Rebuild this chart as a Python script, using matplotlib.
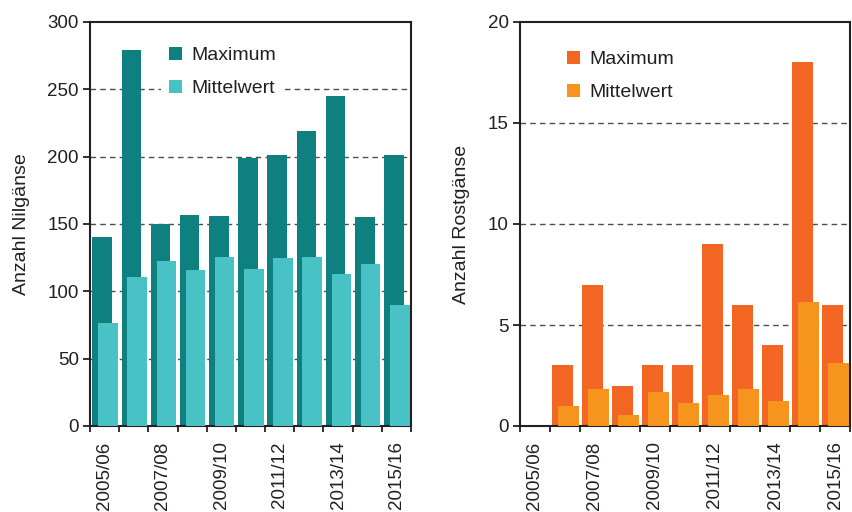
import numpy as np
import matplotlib
matplotlib.use('Agg')
import matplotlib.pyplot as plt

plt.rcParams['font.family'] = ['Liberation Sans', 'DejaVu Sans']

# seasons on the x axis
seasons = ['2005/06', '2006/07', '2007/08', '2008/09', '2009/10', '2010/11',
           '2011/12', '2012/13', '2013/14', '2014/15', '2015/16']

# Nilgaense
nil_max = [140, 279, 150, 157, 156, 199, 201, 219, 245, 155, 201]
nil_mean = [76.5, 110.5, 122.5, 116, 125.5, 116.5, 125, 125.5, 113, 120.5, 90]

# Rostgaense
rost_max = [0, 3, 7, 2, 3, 3, 9, 6, 4, 18, 6]
rost_mean = [0, 1.0, 1.83, 0.55, 1.68, 1.14, 1.53, 1.83, 1.24, 6.14, 3.12]

txt = '#231f20'
fig = plt.figure(figsize=(8.52, 5.12), dpi=100)

ax1 = fig.add_axes([90 / 852, 86 / 512, 321 / 852, 404 / 512])
ax2 = fig.add_axes([520 / 852, 86 / 512, 330 / 852, 404 / 512])


def draw(ax, vmax, vmean, c_max, c_mean, ymax, ystep, ylabel, leg_xy, label_x):
    x = np.arange(len(seasons))
    ax.bar(x - 0.085, vmax, width=0.67, color=c_max, label='Maximum', zorder=2)
    ax.bar(x + 0.115, vmean, width=0.67, color=c_mean, label='Mittelwert', zorder=3)

    ax.set_xlim(-0.5, len(seasons) - 0.5)
    ax.set_ylim(0, ymax)
    ax.set_yticks(np.arange(0, ymax + 1, ystep))
    # dashed grid, behind the bars
    for v in np.arange(ystep, ymax, ystep):
        ax.axhline(v, color='#4d4d4d', lw=1, ls=(0, (4, 3)), zorder=1)

    # labels on every second season, tick marks between seasons
    ax.set_xticks(x[::2])
    ax.set_xticklabels(seasons[::2], rotation=90, fontsize=13.5, color=txt)
    ax.set_xticks(np.arange(-0.5, len(seasons)), minor=True)
    ax.tick_params(axis='x', which='major', length=0, pad=11)
    ax.tick_params(axis='x', which='minor', length=4, width=1.3, color=txt)
    ax.tick_params(axis='y', length=5, width=1.3, color=txt, labelsize=13.5,
                   labelcolor=txt, pad=3)

    for s in ax.spines.values():
        s.set_linewidth(1.5)
        s.set_color(txt)

    ax.set_ylabel(ylabel, fontsize=14, color=txt)
    ax.yaxis.set_label_coords(label_x, 0.5)

    leg = ax.legend(loc='upper left', bbox_to_anchor=leg_xy, fontsize=14,
                    frameon=True, fancybox=False, framealpha=1,
                    handlelength=0.67, handleheight=0.67, handletextpad=0.5,
                    labelspacing=0.8, borderaxespad=0, borderpad=0.4)
    leg.get_frame().set_edgecolor('none')
    leg.set_zorder(5)
    for t in leg.get_texts():
        t.set_color(txt)


draw(ax1, nil_max, nil_mean, '#0e8080', '#48c2c5', 300, 50,
     'Anzahl Nilgänse', (0.221, 0.958), -0.188)
draw(ax2, rost_max, rost_mean, '#f26522', '#f7941d', 20, 5,
     'Anzahl Rostgänse', (0.118, 0.948), -0.151)

plt.savefig('out.png', dpi=100)
plt.close()
